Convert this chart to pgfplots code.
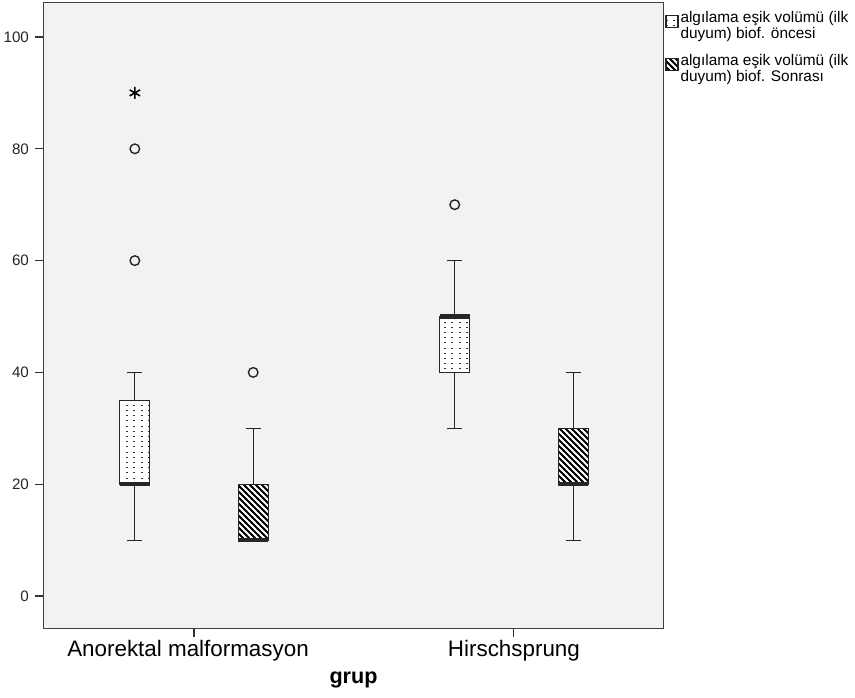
\documentclass[border=0pt]{standalone}
\usepackage{fontspec}
\setmainfont{Liberation Sans}
\usepackage{pgfplots}
\pgfplotsset{compat=1.18}
\usepgfplotslibrary{statistics}
\usetikzlibrary{patterns,patterns.meta}

\pgfdeclarepattern{
  name=spssdots, type=uncolored,
  bottom left={\pgfpoint{-.1pt}{-.1pt}},
  top right={\pgfpoint{3.8pt}{2.7pt}},
  tile size={\pgfpoint{3.7pt}{2.6pt}},
  code={\pgfpathrectangle{\pgfpoint{0pt}{0pt}}{\pgfpoint{1pt}{0.55pt}}\pgfusepath{fill}}
}
\pgfdeclarepattern{
  name=spsshatch, type=uncolored,
  bottom left={\pgfpoint{-1pt}{-1pt}},
  top right={\pgfpoint{4pt}{4pt}},
  tile size={\pgfpoint{3pt}{3pt}},
  code={\pgfsetlinewidth{1pt}\pgfpathmoveto{\pgfpoint{-0.2pt}{3.2pt}}\pgfpathlineto{\pgfpoint{3.2pt}{-0.2pt}}\pgfusepath{stroke}}
}

\tikzset{
  dotbox/.style={draw=black!85, line width=0.55pt, fill=white, postaction={pattern=spssdots, pattern color=black!80}},
  hatchbox/.style={draw=black!85, line width=0.55pt, fill=white, postaction={pattern=spsshatch}},
}

\begin{document}
\begin{tikzpicture}
\path[use as bounding box] (-22pt,-34.5pt) rectangle (405.5pt,314pt);
\begin{axis}[
  scale only axis,
  width=309.5pt, height=312.5pt,
  xmin=0.531, xmax=2.466,
  ymin=-5.72, ymax=106.08,
  axis background/.style={fill=black!5},
  axis line style={draw=black!75, line width=0.5pt},
  tick align=outside,
  major tick length=4.5pt,
  tick style={draw=black!80, line width=0.55pt},
  xtick pos=bottom, ytick pos=left,
  xtick={1,2},
  xticklabels={\hspace*{-6pt}Anorektal malformasyon, Hirschsprung},
  ytick={0,20,40,60,80,100},
  /pgf/number format/assume math mode=true,
  yticklabel style={font=\fontsize{7.6}{8}\selectfont, text=black!85, xshift=0.5pt},
  xticklabel style={font=\fontsize{11.2}{12}\selectfont, text=black, yshift=2pt},
  xlabel={\textbf{grup}},
  xlabel style={font=\fontsize{10.8}{12}\selectfont, yshift=1.2pt},
  legend style={at={(1,1)}, anchor=north west, draw=none, fill=none,
    xshift=1pt, yshift=-3pt, inner sep=0pt, row sep=4pt,
    nodes={align=left, font=\fontsize{7.7}{6.4}\selectfont, inner sep=1pt},
    cells={anchor=west}},
  clip=false,
  boxplot/draw direction=y,
  boxplot/box extend=0.094,
  boxplot/whisker extend=0.047,
  boxplot/every median/.style={line width=2.2pt},
]
\addlegendimage{legend image code/.code={\draw[dotbox] (0pt,-0.5pt) rectangle (6pt,5.5pt);}}
\addlegendentry{algılama eşik volümü (ilk\\duyum) biof. öncesi}
\addlegendimage{legend image code/.code={\draw[hatchbox] (0pt,-0.5pt) rectangle (6pt,5.5pt);}}
\addlegendentry{algılama eşik volümü (ilk\\duyum) biof. Sonrası}

% Anorektal malformasyon - oncesi
\addplot+[black!85, solid, line width=0.55pt, mark=o, mark size=2.4pt, mark options={solid, line width=0.7pt, fill=none},
  boxplot prepared={draw position=0.815,
    lower whisker=10, lower quartile=20, median=20, upper quartile=35, upper whisker=40,
    every box/.style={dotbox}}]
  table[row sep=\\, y index=0] {data\\ 60\\ 80\\};
% Anorektal malformasyon - sonrasi
\addplot+[black!85, solid, line width=0.55pt, mark=o, mark size=2.4pt, mark options={solid, line width=0.7pt, fill=none},
  boxplot prepared={draw position=1.185,
    lower whisker=10, lower quartile=10, median=10, upper quartile=20, upper whisker=30,
    every box/.style={hatchbox}}]
  table[row sep=\\, y index=0] {data\\ 40\\};
% Hirschsprung - oncesi
\addplot+[black!85, solid, line width=0.55pt, mark=o, mark size=2.4pt, mark options={solid, line width=0.7pt, fill=none},
  boxplot prepared={draw position=1.815,
    lower whisker=30, lower quartile=40, median=50, upper quartile=50, upper whisker=60,
    every box/.style={dotbox}}]
  table[row sep=\\, y index=0] {data\\ 70\\};
% Hirschsprung - sonrasi
\addplot+[black!85, solid, line width=0.55pt, mark=none,
  boxplot prepared={draw position=2.185,
    lower whisker=10, lower quartile=20, median=20, upper quartile=30, upper whisker=40,
    every box/.style={hatchbox}}]
  coordinates {};
% extreme value
\addplot[only marks, mark=asterisk, mark size=3pt, mark options={line width=0.8pt}]
  coordinates {(0.815,90)};
\end{axis}
\end{tikzpicture}
\end{document}
